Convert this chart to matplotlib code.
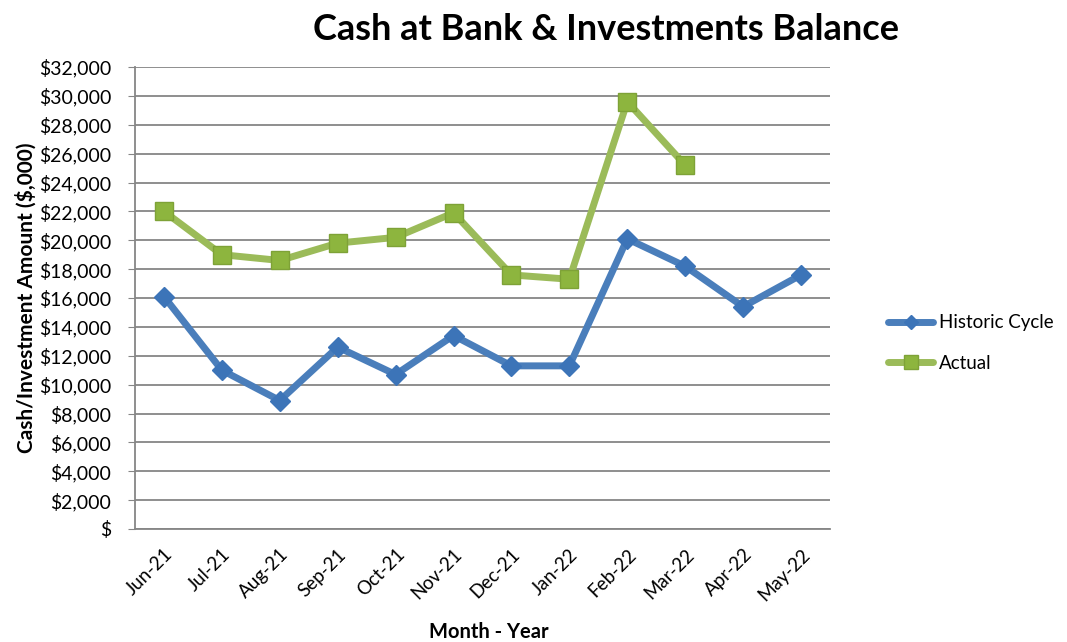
import matplotlib
matplotlib.use("Agg")
import matplotlib.pyplot as plt
from matplotlib.ticker import FuncFormatter, MultipleLocator

months = ["Jun-21", "Jul-21", "Aug-21", "Sep-21", "Oct-21", "Nov-21",
          "Dec-21", "Jan-22", "Feb-22", "Mar-22", "Apr-22", "May-22"]
historic = [16100, 11000, 8900, 12600, 10700, 13400, 11300, 11300, 20100, 18200, 15400, 17600]
actual = [22000, 19000, 18600, 19800, 20200, 21900, 17600, 17300, 29600, 25200]

plt.rcParams['font.family'] = ['Lato', 'DejaVu Sans']

fig = plt.figure(figsize=(10.67, 6.42), dpi=100)
W, H = 1067, 642
ax = fig.add_axes([135 / W, 1 - 529 / H, (830 - 135) / W, (529 - 67) / H])

blue = "#4A7EBB"
green = "#9BBB59"
x_h = list(range(len(historic)))
x_a = list(range(len(actual)))
ax.plot(x_h, historic, color=blue, lw=5, marker="D", markersize=10,
        markerfacecolor="#3C74B8", markeredgecolor="#3C74B8", label="Historic Cycle",
        solid_capstyle="round", zorder=3)
ax.plot(x_a, actual, color=green, lw=5, marker="s", markersize=13,
        markerfacecolor="#8DB53E", markeredgecolor="#7EA237", label="Actual",
        solid_capstyle="round", zorder=3)

ax.set_xlim(-0.5, len(months) - 0.5)
ax.set_ylim(0, 32000)
ax.yaxis.set_major_locator(MultipleLocator(2000))
ax.yaxis.set_major_formatter(FuncFormatter(lambda v, p: "$" if v == 0 else f"${v:,.0f}"))
ax.set_xticks(range(len(months)))
ax.set_xticklabels(months, rotation=45, ha="right", rotation_mode="anchor", fontsize=13.5)
for lab in ax.get_yticklabels():
    lab.set_fontsize(14)
ax.tick_params(axis="x", length=0, pad=12)
ax.tick_params(axis="y", length=5, color="#868686", pad=12)

ax.grid(axis="y", color="#868686", lw=1.3)
ax.set_axisbelow(True)
for s in ["top", "right"]:
    ax.spines[s].set_visible(False)
ax.spines["left"].set_color("#868686")
ax.spines["bottom"].set_color("#868686")
ax.spines["left"].set_linewidth(1.3)
ax.spines["bottom"].set_linewidth(1.3)

fig.text(606 / W, 1 - 30 / H, "Cash at Bank & Investments Balance", ha="center", va="center",
         fontsize=26, fontweight="bold")
fig.text(26 / W, 1 - 298 / H, "Cash/Investment Amount ($,000)", ha="center", va="center",
         rotation=90, fontsize=15, fontweight="bold")
fig.text(489 / W, 1 - 632 / H, "Month - Year", ha="center", va="center",
         fontsize=14.5, fontweight="bold")

fig.legend(loc="center left", bbox_to_anchor=(888 / W, 1 - 343 / H), frameon=False,
           fontsize=13.5, handlelength=2.4, labelspacing=1.25, handletextpad=0.3,
           borderpad=0, borderaxespad=0, markerscale=0.75)

fig.savefig("out.png", dpi=100)
